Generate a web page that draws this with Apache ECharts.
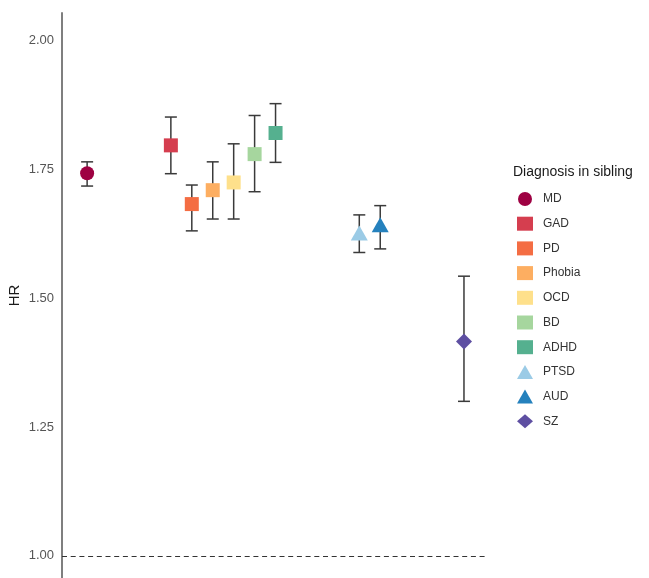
<!DOCTYPE html>
<html>
<head>
<meta charset="utf-8">
<script src="https://cdn.jsdelivr.net/npm/echarts@6/dist/echarts.min.js"></script>
<style>
  html, body { margin: 0; padding: 0; background: #fff; }
  #chart { width: 649px; height: 578px; }
</style>
</head>
<body>
<div id="chart"></div>
<script>
// ---- data ----
var diagnoses = ['MD', 'GAD', 'PD', 'Phobia', 'OCD', 'BD', 'ADHD', 'PTSD', 'AUD', 'SZ'];
var slotPos   = [0, 4, 5, 6, 7, 8, 9, 13, 14, 18];   // dodge slot of each diagnosis
var hr        = [1.743, 1.797, 1.683, 1.710, 1.725, 1.780, 1.821, 1.627, 1.643, 1.416];
var ciLow     = [1.718, 1.742, 1.631, 1.654, 1.654, 1.707, 1.764, 1.589, 1.596, 1.300];
var ciHigh    = [1.765, 1.852, 1.720, 1.765, 1.800, 1.855, 1.878, 1.662, 1.680, 1.543];
var colors    = ['#9E0142', '#D53E4F', '#F46D43', '#FDAE61', '#FEE08B', '#A6D69E', '#55B08F', '#9BCBE6', '#2581BD', '#5E4FA2'];
var shapes    = ['circle', 'rect', 'rect', 'rect', 'rect', 'rect', 'rect', 'triangle', 'triangle', 'diamond'];
var yTicks    = [1.00, 1.25, 1.50, 1.75, 2.00];
var refLine   = 1.00;

var markerSize = { circle: 14, rect: 14, triangle: [17, 15], diamond: [16, 16] };

var chart = echarts.init(document.getElementById('chart'), null, { renderer: 'canvas' });

var errData = diagnoses.map(function (d, i) { return [slotPos[i], ciLow[i], ciHigh[i]]; });

var series = [{
  type: 'custom',
  name: 'ci',
  silent: true,
  z: 1,
  data: errData,
  encode: { x: 0, y: [1, 2] },
  renderItem: function (params, api) {
    var x = api.value(0);
    var lo = api.coord([x, api.value(1)]);
    var hi = api.coord([x, api.value(2)]);
    var half = 6;
    var style = { stroke: '#3a3a3a', lineWidth: 1.5 };
    return {
      type: 'group',
      children: [
        { type: 'line', shape: { x1: lo[0], y1: lo[1], x2: hi[0], y2: hi[1] }, style: style },
        { type: 'line', shape: { x1: lo[0] - half, y1: lo[1], x2: lo[0] + half, y2: lo[1] }, style: style },
        { type: 'line', shape: { x1: hi[0] - half, y1: hi[1], x2: hi[0] + half, y2: hi[1] }, style: style }
      ]
    };
  },
  markLine: {
    silent: true,
    symbol: 'none',
    label: { show: false },
    lineStyle: { type: [5, 3.7], color: '#333', width: 1 },
    data: [{ yAxis: refLine }]
  }
}];

diagnoses.forEach(function (d, i) {
  series.push({
    type: 'scatter',
    name: d,
    z: 3,
    symbol: shapes[i],
    symbolSize: markerSize[shapes[i]],
    itemStyle: { color: colors[i], opacity: 1 },
    data: [[slotPos[i], hr[i]]]
  });
});

var option = {
  animation: false,
  backgroundColor: '#ffffff',
  title: {
    text: 'Diagnosis in sibling',
    left: 513,
    top: 165,
    padding: 0,
    textStyle: { fontFamily: 'Liberation Sans', fontSize: 14, fontWeight: 'normal', color: '#1a1a1a' }
  },
  legend: {
    orient: 'vertical',
    left: 517,
    top: 192,
    itemWidth: 16,
    itemHeight: 14,
    itemGap: 10.7,
    padding: 0,
    selectedMode: false,
    data: diagnoses.map(function (d, i) { return { name: d, icon: shapes[i] }; }),
    textStyle: { fontFamily: 'Liberation Sans', fontSize: 12, color: '#333', padding: [0, 0, 0, 5] }
  },
  grid: { left: 62, right: 162, top: 13, bottom: 0, containLabel: false, outerBoundsMode: 'none' },
  xAxis: {
    type: 'value',
    min: -1.2,
    max: 19.1,
    show: false
  },
  yAxis: {
    type: 'value',
    min: 0.957,
    max: 2.054,
    name: 'HR',
    nameLocation: 'middle',
    nameGap: 40,
    nameMoveOverlap: false,
    nameTextStyle: { fontFamily: 'Liberation Sans', fontSize: 15, color: '#1a1a1a' },
    axisLine: { show: true, onZero: false, lineStyle: { color: '#7f7f7f', width: 2 } },
    axisTick: { show: false },
    splitLine: { show: false },
    axisLabel: {
      customValues: yTicks,
      margin: 8,
      fontFamily: 'Liberation Sans',
      fontSize: 13,
      color: '#555',
      formatter: function (v) { return v.toFixed(2); }
    }
  },
  series: series
};

chart.setOption(option);
</script>
</body>
</html>
